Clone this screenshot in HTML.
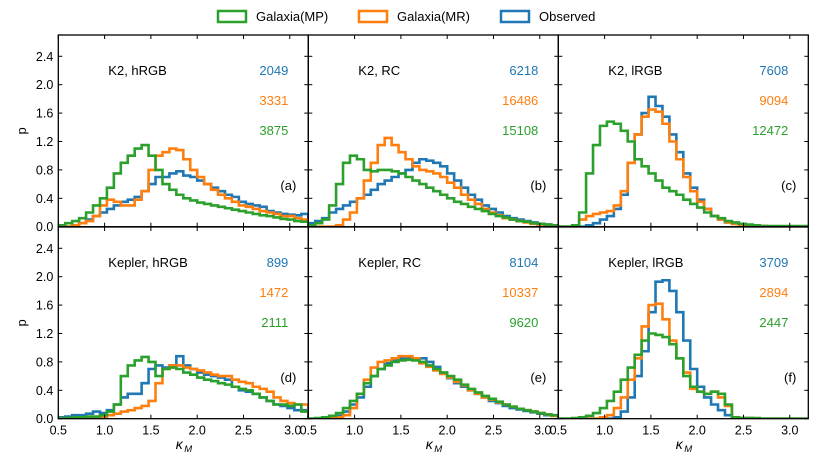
<!DOCTYPE html>
<html><head><meta charset="utf-8"><style>
body{margin:0;background:#fff;}
svg{font-family:"Liberation Sans","DejaVu Sans",sans-serif;}
</style></head><body>
<svg id="chart" width="822" height="470" viewBox="0 0 822 470" xmlns="http://www.w3.org/2000/svg">
<g>
<rect x="218" y="11" width="28" height="11" fill="none" stroke="#2ca02c" stroke-width="2.5"/>
<text x="256" y="21" font-size="13">Galaxia(MP)</text>
<rect x="359" y="11" width="28" height="11" fill="none" stroke="#ff7f0e" stroke-width="2.5"/>
<text x="397" y="21" font-size="13">Galaxia(MR)</text>
<rect x="501" y="11" width="28" height="11" fill="none" stroke="#1f77b4" stroke-width="2.5"/>
<text x="539" y="21" font-size="13">Observed</text>
</g>
</svg>
<script>
const binStart = 0.5, binWidth = 0.075;
const xTicks = [0.5,1.0,1.5,2.0,2.5,3.0];
const xTickLabels = ["0.5","1.0","1.5","2.0","2.5","3.0"];
const yTicks = [0,0.4,0.8,1.2,1.6,2.0,2.4];
const yTickLabels = ["0.0","0.4","0.8","1.2","1.6","2.0","2.4"];
const panelTitles = ["K2, hRGB","K2, RC","K2, lRGB","Kepler, hRGB","Kepler, RC","Kepler, lRGB"];
const panelTags = ["(a)","(b)","(c)","(d)","(e)","(f)"];
const countsObs = [2049,6218,7608,899,8104,3709];
const countsMR = [3331,16486,9094,1472,10337,2894];
const countsMP = [3875,15108,12472,2111,9620,2447];

const mpA=[0.02,0.05,0.08,0.12,0.2,0.3,0.4,0.55,0.75,0.9,1.0,1.1,1.15,1.0,0.8,0.6,0.52,0.45,0.4,0.37,0.34,0.32,0.3,0.28,0.26,0.24,0.22,0.2,0.18,0.16,0.15,0.13,0.11,0.1,0.08,0.07];
const mrA=[0,0,0.02,0.05,0.08,0.15,0.3,0.38,0.35,0.3,0.3,0.38,0.5,0.8,1.0,1.05,1.1,1.08,0.95,0.8,0.7,0.6,0.52,0.45,0.4,0.35,0.3,0.28,0.25,0.22,0.2,0.18,0.15,0.15,0.12,0.1];
const obsA=[0,0,0.02,0.05,0.1,0.15,0.2,0.25,0.3,0.35,0.38,0.42,0.5,0.6,0.7,0.7,0.75,0.78,0.72,0.7,0.65,0.6,0.55,0.5,0.45,0.42,0.35,0.32,0.3,0.28,0.22,0.2,0.18,0.17,0.16,0.18];
const mpB=[0.02,0.05,0.1,0.3,0.6,0.9,1.0,0.95,0.8,0.78,0.8,0.8,0.78,0.75,0.7,0.65,0.6,0.55,0.5,0.45,0.4,0.35,0.32,0.28,0.25,0.22,0.18,0.15,0.13,0.1,0.08,0.07,0.05,0.04,0.03,0.02];
const mrB=[0,0,0,0,0.02,0.1,0.2,0.4,0.65,0.9,1.15,1.25,1.15,1.05,0.95,0.85,0.8,0.78,0.75,0.7,0.62,0.55,0.45,0.38,0.32,0.25,0.2,0.16,0.12,0.1,0.08,0.06,0.04,0.03,0.02,0.01];
const obsB=[0.05,0.08,0.12,0.2,0.25,0.3,0.35,0.4,0.45,0.52,0.6,0.65,0.7,0.75,0.8,0.9,0.95,0.93,0.9,0.85,0.75,0.65,0.55,0.45,0.38,0.3,0.25,0.2,0.15,0.12,0.1,0.08,0.06,0.04,0.03,0.02];
const mpC=[0,0,0.02,0.2,0.75,1.15,1.42,1.48,1.45,1.35,1.2,0.95,0.85,0.75,0.65,0.55,0.5,0.45,0.38,0.32,0.27,0.2,0.15,0.12,0.08,0.06,0.04,0.03,0.02,0.01,0.01,0.01,0.01,0.01,0.01,0.01];
const mrC=[0,0,0,0.1,0.15,0.18,0.2,0.22,0.3,0.5,0.9,1.3,1.55,1.65,1.62,1.45,1.2,0.95,0.7,0.5,0.35,0.25,0.15,0.1,0.06,0.04,0.02,0.01,0.01,0.01,0,0,0,0,0,0];
const obsC=[0,0,0,0,0.02,0.05,0.1,0.15,0.25,0.45,0.9,1.3,1.6,1.83,1.7,1.55,1.3,1.05,0.75,0.55,0.38,0.25,0.15,0.1,0.06,0.04,0.03,0.02,0.01,0.01,0,0,0,0,0,0];
const mpD=[0.01,0.01,0.02,0.02,0.03,0.03,0.05,0.1,0.2,0.6,0.75,0.82,0.87,0.8,0.6,0.7,0.72,0.7,0.65,0.62,0.58,0.55,0.53,0.5,0.48,0.45,0.42,0.4,0.35,0.3,0.25,0.2,0.2,0.18,0.2,0.1];
const mrD=[0,0,0,0,0,0,0.02,0.05,0.07,0.1,0.12,0.15,0.18,0.25,0.5,0.7,0.75,0.75,0.72,0.7,0.68,0.65,0.62,0.6,0.6,0.55,0.52,0.5,0.45,0.42,0.38,0.3,0.25,0.22,0.2,0.2];
const obsD=[0.02,0.03,0.05,0.05,0.07,0.1,0.08,0.12,0.2,0.3,0.35,0.35,0.5,0.7,0.75,0.72,0.75,0.88,0.75,0.7,0.65,0.62,0.6,0.58,0.55,0.45,0.4,0.38,0.35,0.3,0.25,0.2,0.18,0.15,0.12,0.12];
const mpE=[0,0.01,0.02,0.04,0.08,0.15,0.25,0.35,0.5,0.6,0.7,0.75,0.8,0.82,0.83,0.82,0.8,0.75,0.7,0.65,0.6,0.55,0.48,0.42,0.37,0.32,0.28,0.24,0.2,0.17,0.14,0.12,0.1,0.08,0.06,0.05];
const mrE=[0,0,0,0.01,0.02,0.05,0.15,0.35,0.55,0.72,0.8,0.82,0.85,0.88,0.88,0.85,0.78,0.73,0.68,0.63,0.58,0.52,0.47,0.4,0.35,0.3,0.27,0.23,0.2,0.17,0.14,0.12,0.1,0.08,0.06,0.04];
const obsE=[0,0,0.01,0.02,0.04,0.1,0.2,0.3,0.45,0.6,0.7,0.78,0.82,0.85,0.85,0.83,0.85,0.8,0.73,0.65,0.57,0.5,0.45,0.4,0.35,0.3,0.25,0.22,0.18,0.15,0.13,0.11,0.09,0.07,0.05,0.04];
const mpF=[0,0,0.01,0.02,0.04,0.08,0.15,0.25,0.38,0.55,0.72,0.9,1.1,1.2,1.18,1.15,1.05,0.85,0.6,0.45,0.38,0.35,0.38,0.35,0.2,0.02,0.01,0.01,0.01,0,0,0,0,0,0,0];
const mrF=[0,0,0,0,0,0,0.02,0.05,0.15,0.3,0.55,0.85,1.3,1.6,1.62,1.4,1.1,0.85,0.65,0.42,0.38,0.35,0.38,0.3,0.18,0.02,0.01,0.01,0,0,0,0,0,0,0,0];
const obsF=[0,0,0,0,0,0,0,0,0.02,0.1,0.3,0.6,0.95,1.5,1.93,1.95,1.8,1.5,1.1,0.7,0.45,0.3,0.2,0.12,0.05,0.02,0.01,0.01,0,0,0,0,0,0,0,0];

const panelObs=[obsA,obsB,obsC,obsD,obsE,obsF];
const panelMR=[mrA,mrB,mrC,mrD,mrE,mrF];
const panelMP=[mpA,mpB,mpC,mpD,mpE,mpF];

const NS="http://www.w3.org/2000/svg";
const svg=document.getElementById('chart');
const X0=[58.3,308.3,558.3], PW=250, Y0=[35,227], PH=191.7;
const XMIN=0.5,XMAX=3.2,YMAX=2.7;
function mk(tag,attrs,parent){const e=document.createElementNS(NS,tag);for(const k in attrs)e.setAttribute(k,attrs[k]);(parent||svg).appendChild(e);return e;}

for(let p=0;p<6;p++){
  const col=p%3,row=Math.floor(p/3);
  const left=X0[col],top=Y0[row],bottom=top+PH;
  const sx=v=>left+(v-XMIN)/(XMAX-XMIN)*PW;
  const sy=v=>bottom-v/YMAX*PH;
  const g=mk('g',{});
  
  
  const clipId='clip'+p;
  const cp=mk('clipPath',{id:clipId},g);
  mk('rect',{x:left,y:top,width:PW,height:PH},cp);
  const series=[[panelObs[p],'#1f77b4','observed'],[panelMR[p],'#ff7f0e','galaxia-mr'],[panelMP[p],'#2ca02c','galaxia-mp']];
  series.forEach(([vals,color,nm])=>{
    let d='M'+sx(binStart)+','+sy(0);
    vals.forEach((v,i)=>{const a=binStart+i*binWidth,b=a+binWidth;d+=' L'+sx(a)+','+sy(v)+' L'+sx(b)+','+sy(v);});
    d+=' L'+sx(binStart+vals.length*binWidth)+','+sy(0);
    const path=mk('path',{d:d,fill:'none',stroke:color,'stroke-width':2.6,'stroke-linejoin':'miter','clip-path':'url(#'+clipId+')'},g);
    
    
  });
  const fr=mk('rect',{x:left,y:top,width:PW,height:PH,fill:'none',stroke:'#000','stroke-width':1.3},g);
  
  
  xTicks.forEach((t,i)=>{
    const x=sx(t);
    mk('line',{x1:x,y1:bottom,x2:x,y2:bottom-4,stroke:'#000','stroke-width':1},g);
    mk('line',{x1:x,y1:top,x2:x,y2:top+4,stroke:'#000','stroke-width':1},g);
    if(row===1){
      const tl=mk('text',{x:(t===3.0&&col<2)?x+3:x,y:bottom+16,'font-size':12.5,'text-anchor':'middle'},g);
      tl.textContent=xTickLabels[i];
      
      
    }
  });
  yTicks.forEach((t,i)=>{
    const y=sy(t);
    mk('line',{x1:left,y1:y,x2:left+4,y2:y,stroke:'#000','stroke-width':1},g);
    mk('line',{x1:left+PW,y1:y,x2:left+PW-4,y2:y,stroke:'#000','stroke-width':1},g);
    if(col===0){
      const tl=mk('text',{x:left-5,y:y+4.5,'font-size':12.5,'text-anchor':'end'},g);
      tl.textContent=yTickLabels[i];
      
      
    }
  });
  const title=mk('text',{x:left+50,y:top+40,'font-size':13},g);
  title.textContent=panelTitles[p];
  
  
  [[countsObs[p],'#1f77b4',0],[countsMR[p],'#ff7f0e',30],[countsMP[p],'#2ca02c',60]].forEach(([c,color,dy])=>{
    const t=mk('text',{x:left+PW-20,y:top+40+dy,'font-size':13,'text-anchor':'end',fill:color},g);
    t.textContent=c;
    
    
  });
  const tag=mk('text',{x:left+PW-12,y:top+155,'font-size':13,'text-anchor':'end'},g);
  tag.textContent=panelTags[p];
  
  
  if(col===0){
    const yl=mk('text',{x:22,y:top+PH/2+4,'font-size':13,'text-anchor':'middle',transform:'rotate(-90 22 '+(top+PH/2)+')'},g);
    yl.textContent='p';
    
    
  }
  if(row===1){
    const xl=mk('text',{x:left+PW/2-4,y:449,'font-size':14,'text-anchor':'middle','font-style':'italic'},g);
    xl.textContent='κ';
    
    
    const sub=mk('text',{x:left+PW/2+1,y:452,'font-size':9.5,'font-style':'italic'},g);
    sub.textContent='M';
    
    
  }
}
</script>
</body></html>
